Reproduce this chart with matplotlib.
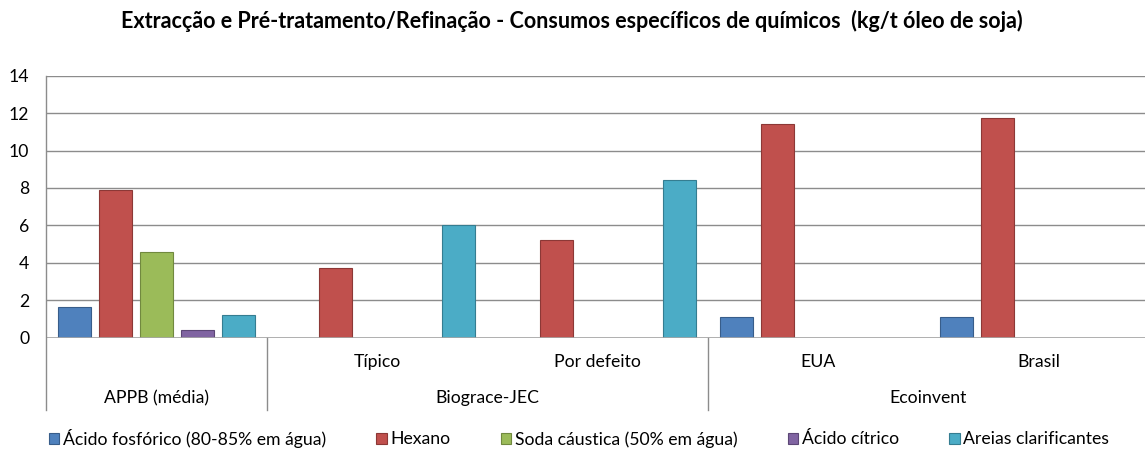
import numpy as np
import matplotlib
matplotlib.use("Agg")
import matplotlib.pyplot as plt
from matplotlib.lines import Line2D

# ---- data ----
categories = ["APPB (média)", "Típico", "Por defeito", "EUA", "Brasil"]
groups = [("APPB (média)", 0, 1), ("Biograce-JEC", 1, 3), ("Ecoinvent", 3, 5)]
cat_row_labels = ["", "Típico", "Por defeito", "EUA", "Brasil"]
series_names = ["Ácido fosfórico (80-85% em água)", "Hexano",
                "Soda cáustica (50% em água)", "Ácido cítrico", "Areias clarificantes"]
acido_fosforico = [1.62, None, None, 1.09, 1.10]
hexano = [7.88, 3.75, 5.22, 11.40, 11.74]
soda_caustica = [4.56, None, None, None, None]
acido_citrico = [0.43, None, None, None, None]
areias = [1.23, 6.01, 8.41, None, None]
series_values = [acido_fosforico, hexano, soda_caustica, acido_citrico, areias]
yticks = [0, 2, 4, 6, 8, 10, 12, 14]

colors = ["#4F81BD", "#C0504D", "#9BBB59", "#8064A2", "#4BACC6"]
edges = ["#385D8A", "#8C3836", "#71893F", "#5C4776", "#357D91"]

plt.rcParams['font.family'] = ['Lato', 'DejaVu Sans']
FS = 12.7
FS_T = 15.5

W, H = 1145, 450
fig = plt.figure(figsize=(W / 100, H / 100), dpi=100)
ax_left, ax_right = 46, 1149
ax_top, ax_bot = 75.7, 337.7
ax = fig.add_axes([ax_left / W, (H - ax_bot) / H, (ax_right - ax_left) / W, (ax_bot - ax_top) / H])

pitch = 0.1858
bw = 0.1495
handles = []
for j, (name, vals) in enumerate(zip(series_names, series_values)):
    xs = [i + (j - 2) * pitch for i, v in enumerate(vals) if v is not None]
    hs = [v for v in vals if v is not None]
    b = ax.bar(xs, hs, width=bw, color=colors[j], edgecolor=edges[j], linewidth=0.8,
               label=name, zorder=3)
    handles.append(b)

ax.set_xlim(-0.5, 4.5)
ax.set_ylim(0, 14)
ax.set_yticks(yticks)
ax.set_yticklabels([str(t) for t in yticks], fontsize=FS)
ax.set_xticks([])
ax.tick_params(axis='y', length=0, pad=12)
ax.grid(axis='y', color='#8C8C8C', linewidth=1.0, zorder=0)
for s in ['top', 'right', 'bottom', 'left']:
    ax.spines[s].set_visible(False)
ax.axhline(0, color='#A6A6A6', linewidth=1.2, zorder=4)

# vertical axis line and separators extending below
trans = ax.get_xaxis_transform()
y_low = -(410 - ax_bot) / (ax_bot - ax_top)
for xb in [-0.5, 1 - 0.5, 3 - 0.5]:
    y_hi = 1.0 if xb == -0.5 else 0.0
    ax.add_line(Line2D([xb, xb], [y_low, y_hi], transform=trans, color='#8C8C8C',
                       linewidth=1.0, clip_on=False, zorder=5))

# category labels
y_cat = -(362 - ax_bot) / (ax_bot - ax_top)
y_grp = -(398 - ax_bot) / (ax_bot - ax_top)
for i, lab in enumerate(cat_row_labels):
    if lab:
        ax.text(i, y_cat, lab, transform=trans, ha='center', va='center', fontsize=FS)
for lab, a, b in groups:
    ax.text((a + b - 1) / 2, y_grp, lab, transform=trans, ha='center', va='center', fontsize=FS)

fig.text(572 / W, (H - 21) / H, "Extracção e Pré-tratamento/Refinação - Consumos específicos de químicos  (kg/t óleo de soja)",
         ha='center', va='center', fontsize=FS_T, fontweight='bold')

fig.legend(handles=handles, loc='center', bbox_to_anchor=(579 / W, (H - 438) / H), ncol=5,
           frameon=False, fontsize=FS, handlelength=0.6, handleheight=0.6,
           handletextpad=0.2, columnspacing=2.85, borderaxespad=0, borderpad=0)

fig.savefig("out.png", dpi=100)
